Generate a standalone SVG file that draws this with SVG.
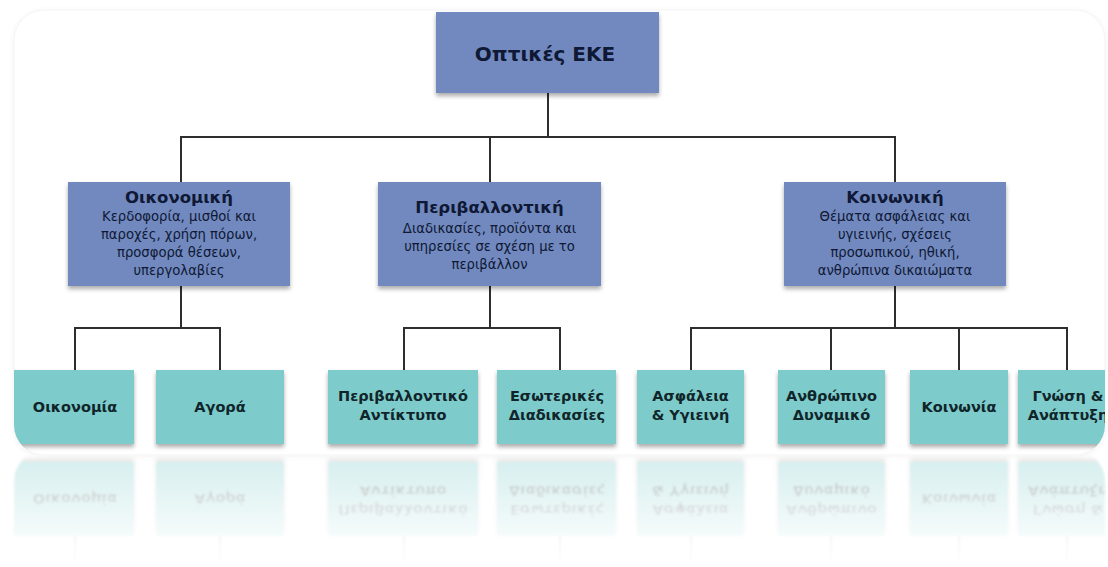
<svg xmlns="http://www.w3.org/2000/svg" xmlns:xlink="http://www.w3.org/1999/xlink" width="1108" height="567" viewBox="0 0 1108 567">
<defs>
<style>
.conn{stroke:#2e2e2e;stroke-width:2;fill:none;stroke-linecap:square}
.blue{fill:#7189bf}
.teal{fill:#7ecbcb}
.t{font-family:"DejaVu Sans",sans-serif;text-anchor:middle;fill:#0f1834}
.h{font-weight:bold;font-size:16.5px}
.b{font-size:13.2px}
.lb{font-family:"DejaVu Sans",sans-serif;text-anchor:middle;fill:#10252a;font-weight:bold;font-size:14.5px}
.panel{fill:#ffffff;stroke:#f3f3f3;stroke-width:1}
</style>
<filter id="sh" x="-10%" y="-10%" width="120%" height="135%">
<feDropShadow dx="0" dy="3" stdDeviation="2" flood-color="#000" flood-opacity="0.33"/>
</filter>
<filter id="psh" x="-5%" y="-5%" width="110%" height="110%">
<feDropShadow dx="0" dy="1" stdDeviation="2.5" flood-color="#000" flood-opacity="0.06"/>
</filter>
<filter id="blur"><feGaussianBlur stdDeviation="0.8"/></filter>
<clipPath id="panelClip"><rect x="14" y="10" width="1091" height="445" rx="30"/></clipPath>
<linearGradient id="fadeGrad" gradientUnits="userSpaceOnUse" x1="0" y1="458" x2="0" y2="567">
<stop offset="0" stop-color="#fff" stop-opacity="0.32"/>
<stop offset="0.7" stop-color="#fff" stop-opacity="0.08"/>
<stop offset="1" stop-color="#fff" stop-opacity="0"/>
</linearGradient>
<mask id="refMask" maskUnits="userSpaceOnUse" x="0" y="455" width="1108" height="112">
<rect x="0" y="455" width="1108" height="112" fill="url(#fadeGrad)"/>
</mask>
</defs>

<rect x="0" y="0" width="1108" height="567" fill="#ffffff"/>

<g id="panel">
<rect class="panel" x="14" y="10" width="1091" height="445" rx="30" filter="url(#psh)"/>
</g>

<g id="connectors">
<g id="conn-top">
<path class="conn" d="M548 93 V137 M181 137 H895 M181 137 V182 M490 137 V182 M895 137 V182"/>
</g>
<g id="conn-lower">
<path class="conn" d="M181 286 V328 M75 328 H220 M75 328 V370 M220 328 V370"/>
<path class="conn" d="M490 286 V328 M404 328 H560 M404 328 V370 M560 328 V370"/>
<path class="conn" d="M895 286 V328 M691 328 H1067 M691 328 V370 M831 328 V370 M959 328 V370 M1067 328 V370"/>
</g>
</g>

<g id="node-root">
<rect class="blue" x="436" y="12" width="223" height="81" filter="url(#sh)"/>
<text class="t" x="545" y="61" style="font-weight:bold;font-size:20px">Οπτικές ΕΚΕ</text>
</g>

<g id="node-oikonomiki">
<rect class="blue" x="68" y="182" width="222" height="104" filter="url(#sh)"/>
<text class="t h" x="179" y="203">Οικονομική</text>
<text class="t b" x="179" y="221">Κερδοφορία, μισθοί και</text>
<text class="t b" x="179" y="239">παροχές, χρήση πόρων,</text>
<text class="t b" x="179" y="257">προσφορά θέσεων,</text>
<text class="t b" x="179" y="275">υπεργολαβίες</text>
</g>

<g id="node-perivallontiki">
<rect class="blue" x="378" y="182" width="223" height="104" filter="url(#sh)"/>
<text class="t h" x="489.5" y="213">Περιβαλλοντική</text>
<text class="t b" x="489.5" y="233">Διαδικασίες, προϊόντα και</text>
<text class="t b" x="489.5" y="251">υπηρεσίες σε σχέση με το</text>
<text class="t b" x="489.5" y="269">περιβάλλον</text>
</g>

<g id="node-koinoniki">
<rect class="blue" x="784" y="182" width="222" height="104" filter="url(#sh)"/>
<text class="t h" x="895" y="203">Κοινωνική</text>
<text class="t b" x="895" y="221">Θέματα ασφάλειας και</text>
<text class="t b" x="895" y="239">υγιεινής, σχέσεις</text>
<text class="t b" x="895" y="257">προσωπικού, ηθική,</text>
<text class="t b" x="895" y="275">ανθρώπινα δικαιώματα</text>
</g>

<g id="bottomRow" clip-path="url(#panelClip)">
<g id="node-oikonomia">
<rect class="teal" x="10" y="370" width="124" height="74" filter="url(#sh)"/>
<text class="lb" x="75" y="412">Οικονομία</text>
</g>
<g id="node-agora">
<rect class="teal" x="156" y="370" width="128" height="74" filter="url(#sh)"/>
<text class="lb" x="220" y="412">Αγορά</text>
</g>
<g id="node-perivallontiko">
<rect class="teal" x="328" y="370" width="150" height="74" filter="url(#sh)"/>
<text class="lb" x="403" y="401">Περιβαλλοντικό</text>
<text class="lb" x="403" y="420">Αντίκτυπο</text>
</g>
<g id="node-esoterikes">
<rect class="teal" x="497" y="370" width="119" height="74" filter="url(#sh)"/>
<text class="lb" x="557" y="401">Εσωτερικές</text>
<text class="lb" x="557" y="420">Διαδικασίες</text>
</g>
<g id="node-asfaleia">
<rect class="teal" x="637" y="370" width="107" height="74" filter="url(#sh)"/>
<text class="lb" x="690.5" y="401">Ασφάλεια</text>
<text class="lb" x="690.5" y="420">&amp; Υγιεινή</text>
</g>
<g id="node-anthropino">
<rect class="teal" x="778" y="370" width="107" height="74" filter="url(#sh)"/>
<text class="lb" x="831.5" y="401">Ανθρώπινο</text>
<text class="lb" x="831.5" y="420">Δυναμικό</text>
</g>
<g id="node-koinonia">
<rect class="teal" x="910" y="370" width="98" height="74" filter="url(#sh)"/>
<text class="lb" x="959" y="412">Κοινωνία</text>
</g>
<g id="node-gnosi">
<rect class="teal" x="1018" y="370" width="100" height="74" filter="url(#sh)"/>
<text class="lb" x="1068" y="401">Γνώση &amp;</text>
<text class="lb" x="1068" y="420">Ανάπτυξη</text>
</g>
</g>

<g id="reflection" mask="url(#refMask)">
<g transform="matrix(1 0 0 -1 0 906)" filter="url(#blur)">
<rect class="panel" x="14" y="10" width="1091" height="445" rx="30"/>
<use xlink:href="#conn-lower"/>
<use xlink:href="#bottomRow"/>
</g>
</g>
</svg>
